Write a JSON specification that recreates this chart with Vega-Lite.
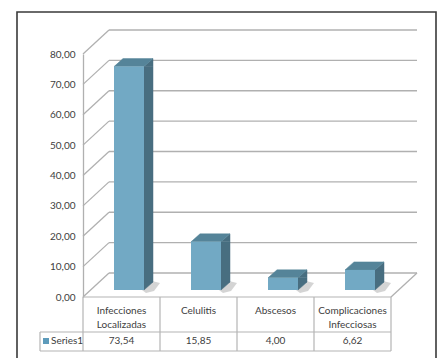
{
  "$schema": "https://vega.github.io/schema/vega-lite/v6.json",
  "width": 419,
  "height": 347,
  "autosize": "none",
  "padding": {"left": 17, "top": 12, "right": 6, "bottom": 0},
  "background": "white",
  "config": {
    "view": {"stroke": "#3a3a3a", "strokeWidth": 1.6},
    "locale": {"number": {"decimal": ",", "thousands": ".", "grouping": [3], "currency": ["", " €"]}},
    "font": "Lato"
  },
  "datasets": {
    "bars": [
      {"cat": "Infecciones Localizadas", "l1": "Infecciones", "l2": "Localizadas", "v": 73.54},
      {"cat": "Celulitis", "l1": "Celulitis", "l2": "", "v": 15.85},
      {"cat": "Abscesos", "l1": "Abscesos", "l2": "", "v": 4.00},
      {"cat": "Complicaciones Infecciosas", "l1": "Complicaciones", "l2": "Infecciosas", "v": 6.62}
    ],
    "ticks": [{"t": 0}, {"t": 10}, {"t": 20}, {"t": 30}, {"t": 40}, {"t": 50}, {"t": 60}, {"t": 70}, {"t": 80}],
    "one": [{"k": 1}]
  },
  "layer": [
    {
      "data": {"name": "ticks"},
      "mark": {"type": "rule", "color": "#b0b0b0", "strokeWidth": 1.4, "xOffset": 26, "x2Offset": 26, "yOffset": -24},
      "encoding": {
        "x": {"datum": "Infecciones Localizadas", "type": "nominal", "bandPosition": 0,
              "scale": {"domain": ["Infecciones Localizadas", "Celulitis", "Abscesos", "Complicaciones Infecciosas"], "range": [66, 374], "paddingInner": 0, "paddingOuter": 0},
              "axis": null},
        "x2": {"datum": "Complicaciones Infecciosas", "bandPosition": 1},
        "y": {"field": "t", "type": "quantitative",
              "scale": {"domain": [0, 80], "range": [285, 42], "nice": false, "zero": false},
              "axis": {"values": [0, 10, 20, 30, 40, 50, 60, 70, 80], "format": ".2f", "offset": -66, "ticks": false, "grid": false,
                       "domainColor": "#b0b0b0", "domainWidth": 1.3, "labelFont": "Lato", "labelFontSize": 10, "labelColor": "#404040",
                       "labelPadding": 8, "title": null}}
      }
    },
    {
      "data": {"name": "ticks"},
      "mark": {"type": "rule", "color": "#b0b0b0", "strokeWidth": 1.3, "x2Offset": 26, "y2Offset": -24},
      "encoding": {
        "x": {"datum": "Infecciones Localizadas", "type": "nominal", "bandPosition": 0},
        "x2": {"datum": "Infecciones Localizadas", "bandPosition": 0},
        "y": {"field": "t", "type": "quantitative"},
        "y2": {"field": "t"}
      }
    },
    {
      "data": {"name": "one"},
      "mark": {"type": "rule", "color": "#b0b0b0", "strokeWidth": 1.3, "x2Offset": 26, "y2Offset": -24},
      "encoding": {
        "x": {"datum": "Complicaciones Infecciosas", "type": "nominal", "bandPosition": 1},
        "x2": {"datum": "Complicaciones Infecciosas", "bandPosition": 1},
        "y": {"datum": 0, "type": "quantitative"},
        "y2": {"datum": 0}
      }
    },
    {
      "data": {"name": "one"},
      "mark": {"type": "rule", "color": "#b4b4b4", "strokeWidth": 1.2},
      "encoding": {
        "x": {"datum": "Infecciones Localizadas", "type": "nominal", "bandPosition": 0},
        "x2": {"datum": "Complicaciones Infecciosas", "bandPosition": 1},
        "y": {"datum": 0, "type": "quantitative"}
      }
    },
    {
      "data": {"name": "one"},
      "mark": {"type": "rule", "color": "#b4b4b4", "strokeWidth": 1.2, "xOffset": -43, "yOffset": 35},
      "encoding": {
        "x": {"datum": "Infecciones Localizadas", "type": "nominal", "bandPosition": 0},
        "x2": {"datum": "Complicaciones Infecciosas", "bandPosition": 1},
        "y": {"datum": 0, "type": "quantitative"}
      }
    },
    {
      "data": {"name": "one"},
      "mark": {"type": "rule", "color": "#b4b4b4", "strokeWidth": 1.2, "xOffset": -43, "yOffset": 54},
      "encoding": {
        "x": {"datum": "Infecciones Localizadas", "type": "nominal", "bandPosition": 0},
        "x2": {"datum": "Complicaciones Infecciosas", "bandPosition": 1},
        "y": {"datum": 0, "type": "quantitative"}
      }
    },
    {
      "data": {"name": "bars"},
      "mark": {"type": "rule", "color": "#b4b4b4", "strokeWidth": 1.2, "y2Offset": 54},
      "encoding": {
        "x": {"field": "cat", "type": "nominal", "bandPosition": 0},
        "y": {"datum": 0, "type": "quantitative"},
        "y2": {"datum": 0}
      }
    },
    {
      "data": {"name": "one"},
      "mark": {"type": "rule", "color": "#b4b4b4", "strokeWidth": 1.2, "y2Offset": 54},
      "encoding": {
        "x": {"datum": "Complicaciones Infecciosas", "type": "nominal", "bandPosition": 1},
        "y": {"datum": 0, "type": "quantitative"},
        "y2": {"datum": 0}
      }
    },
    {
      "data": {"name": "one"},
      "mark": {"type": "rule", "color": "#b4b4b4", "strokeWidth": 1.2, "xOffset": -43, "yOffset": 35, "y2Offset": 54},
      "encoding": {
        "x": {"datum": "Infecciones Localizadas", "type": "nominal", "bandPosition": 0},
        "y": {"datum": 0, "type": "quantitative"},
        "y2": {"datum": 0}
      }
    },
    {
      "data": {"name": "bars"},
      "mark": {"type": "point", "shape": "M-2,0L8,-9L16,-7L10,1L2,3Z", "size": 4, "filled": true, "opacity": 0.3, "xOffset": 22.5, "yOffset": -7, "color": "#707070", "strokeWidth": 0},
      "encoding": {
        "x": {"field": "cat", "type": "nominal"},
        "y": {"datum": 0, "type": "quantitative"}
      }
    },
    {
      "data": {"name": "bars"},
      "mark": {"type": "bar", "width": 9, "xOffset": 27, "yOffset": -7, "y2Offset": -15, "color": "#486e80", "stroke": "#486e80", "strokeWidth": 0.5},
      "encoding": {
        "x": {"field": "cat", "type": "nominal"},
        "y": {"field": "v", "type": "quantitative"},
        "y2": {"datum": 0}
      }
    },
    {
      "data": {"name": "bars"},
      "mark": {"type": "point", "shape": "M0,0L9,-8L9,0Z", "size": 4, "filled": true, "opacity": 1, "xOffset": 22.5, "yOffset": -7, "color": "#486e80", "stroke": "#486e80", "strokeWidth": 0.5},
      "encoding": {
        "x": {"field": "cat", "type": "nominal"},
        "y": {"field": "v", "type": "quantitative"}
      }
    },
    {
      "data": {"name": "bars"},
      "mark": {"type": "point", "shape": "M0,0L0,-8L9,-8Z", "size": 4, "filled": true, "opacity": 1, "xOffset": 22.5, "yOffset": -7, "color": "#486e80", "stroke": "#486e80", "strokeWidth": 0.5},
      "encoding": {
        "x": {"field": "cat", "type": "nominal"},
        "y": {"datum": 0, "type": "quantitative"}
      }
    },
    {
      "data": {"name": "bars"},
      "mark": {"type": "point", "shape": "M0,0L30,0L39,-8L9,-8Z", "size": 4, "filled": true, "opacity": 1, "xOffset": -7.5, "yOffset": -7, "color": "#558499", "stroke": "#558499", "strokeWidth": 0.5},
      "encoding": {
        "x": {"field": "cat", "type": "nominal"},
        "y": {"field": "v", "type": "quantitative"}
      }
    },
    {
      "data": {"name": "bars"},
      "mark": {"type": "bar", "width": 30, "xOffset": 7.5, "yOffset": -7, "y2Offset": -7, "color": "#72a9c4"},
      "encoding": {
        "x": {"field": "cat", "type": "nominal"},
        "y": {"field": "v", "type": "quantitative"},
        "y2": {"datum": 0}
      }
    },
    {
      "data": {"name": "bars"},
      "mark": {"type": "text", "font": "Lato", "fontSize": 10, "color": "#404040", "baseline": "middle", "yOffset": 14},
      "encoding": {
        "x": {"field": "cat", "type": "nominal"},
        "y": {"datum": 0, "type": "quantitative"},
        "text": {"field": "l1"}
      }
    },
    {
      "data": {"name": "bars"},
      "mark": {"type": "text", "font": "Lato", "fontSize": 10, "color": "#404040", "baseline": "middle", "yOffset": 28},
      "encoding": {
        "x": {"field": "cat", "type": "nominal"},
        "y": {"datum": 0, "type": "quantitative"},
        "text": {"field": "l2"}
      }
    },
    {
      "data": {"name": "bars"},
      "mark": {"type": "text", "font": "Lato", "fontSize": 10, "color": "#404040", "baseline": "middle", "yOffset": 44},
      "encoding": {
        "x": {"field": "cat", "type": "nominal"},
        "y": {"datum": 0, "type": "quantitative"},
        "text": {"field": "v", "type": "quantitative", "format": ".2f"}
      }
    },
    {
      "data": {"name": "one"},
      "mark": {"type": "point", "shape": "square", "size": 36, "filled": true, "opacity": 1, "color": "#5d9bbb", "xOffset": -37, "yOffset": 44},
      "encoding": {
        "x": {"datum": "Infecciones Localizadas", "type": "nominal", "bandPosition": 0},
        "y": {"datum": 0, "type": "quantitative"}
      }
    },
    {
      "data": {"name": "one"},
      "mark": {"type": "text", "font": "Lato", "fontSize": 10, "color": "#404040", "baseline": "middle", "align": "left", "xOffset": -32, "yOffset": 44, "text": "Series1"},
      "encoding": {
        "x": {"datum": "Infecciones Localizadas", "type": "nominal", "bandPosition": 0},
        "y": {"datum": 0, "type": "quantitative"}
      }
    }
  ]
}
